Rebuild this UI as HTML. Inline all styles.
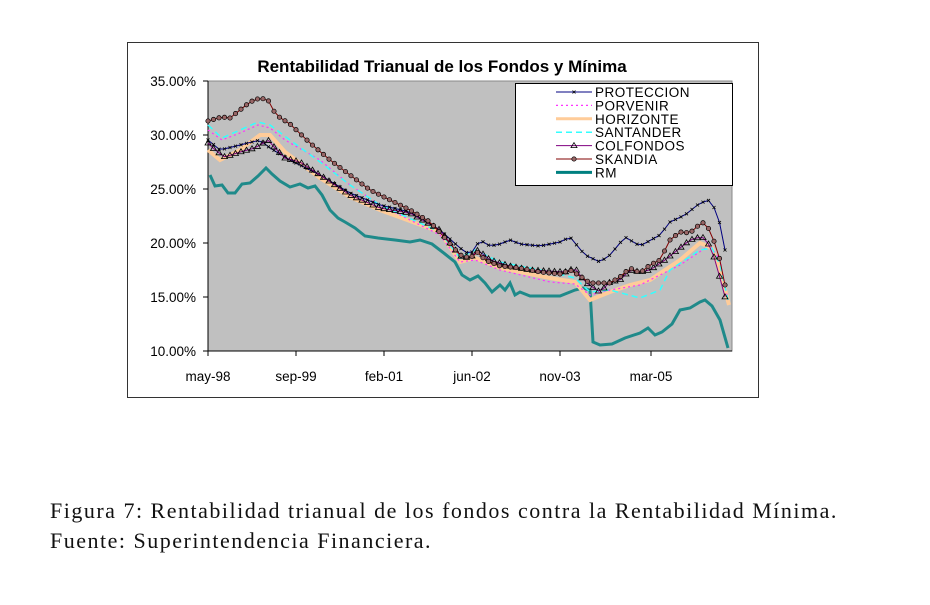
<!DOCTYPE html>
<html><head><meta charset="utf-8"><style>
body{margin:0;background:#fff;width:930px;height:605px;overflow:hidden}
.cap{position:absolute;left:50px;font-family:"Liberation Serif",serif;font-size:22px;letter-spacing:1.5px;color:#111;white-space:nowrap}
</style></head><body>
<svg id="s" width="930" height="605" style="position:absolute;left:0;top:0" font-family="Liberation Sans, sans-serif">
<rect x="127.5" y="42.5" width="631" height="355" fill="#fff" stroke="#333"/>
<text x="442" y="72" text-anchor="middle" font-size="17" font-weight="bold">Rentabilidad Trianual de los Fondos y Mínima</text>
<rect x="208" y="81" width="524" height="270" fill="#c0c0c0" stroke="#888"/>
<g id="ax" stroke="#000" fill="none"></g>
<g id="series"></g>
<g font-size="13.5" fill="#000" id="lab"></g>
</svg>
<div class="cap" style="top:498px">Figura 7: Rentabilidad trianual de los fondos contra la Rentabilidad Mínima.</div>
<div class="cap" style="top:528px">Fuente: Superintendencia Financiera.</div>
<script>
const NS="http://www.w3.org/2000/svg";
function el(t,a,p,txt){const e=document.createElementNS(NS,t);for(const k in a)e.setAttribute(k,a[k]);if(txt)e.textContent=txt;document.getElementById(p).appendChild(e);return e;}
el("line",{x1:208,y1:81,x2:208,y2:351},"ax");el("line",{x1:208,y1:351,x2:732,y2:351},"ax");
["35.00%","30.00%","25.00%","20.00%","15.00%","10.00%"].forEach((t,i)=>{const y=81+i*54;el("line",{x1:203,y1:y,x2:208,y2:y},"ax");el("text",{x:196,y:y+5,"text-anchor":"end"},"lab",t);});
[["may-98",208],["sep-99",296],["feb-01",384],["jun-02",472],["nov-03",560],["mar-05",651]].forEach(([t,x])=>{el("line",{x1:x,y1:351,x2:x,y2:356},"ax");el("text",{x:x,y:381,"text-anchor":"middle"},"lab",t);});
function interp(p){const out=[];for(let x=208;x<=729;x+=5.5){let i=0;while(i<p.length-2&&p[i+1][0]<x)i++;const a=p[i],b=p[i+1];let t=(x-a[0])/(b[0]-a[0]);t=Math.max(0,Math.min(1,t));out.push([x,a[1]+(b[1]-a[1])*t]);}return out;}
const S=[
{c:"#1f8a8a",w:3,m:null,p:[[210,175],[215,186],[222,185],[228,193],[235,193],[242,184],[250,183],[258,176],[266,168],[272,174],[280,181],[290,187],[300,184],[308,188],[315,186],[322,195],[330,210],[338,218],[345,222],[355,228],[365,236],[378,238],[395,240],[410,242],[420,240],[432,244],[445,254],[455,262],[462,275],[470,280],[478,276],[485,283],[492,292],[500,285],[505,290],[510,283],[515,295],[520,292],[530,296],[560,296],[575,290],[583,288],[590,290],[593,342],[600,345],[612,344],[625,338],[640,333],[648,328],[655,335],[662,332],[672,324],[680,310],[690,308],[700,302],[705,300],[712,306],[720,320],[728,348]]},
{c:"#ffcc99",w:4,m:null,p:[[208,150],[220,160],[240,150],[260,135],[270,135],[285,152],[320,178],[350,197],[380,210],[440,232],[460,262],[475,258],[500,268],[550,278],[575,282],[590,300],[610,292],[630,285],[650,280],[680,260],[700,243],[712,248],[720,270],[729,305]]},
{c:"#ff33ff",w:1.2,d:"2,3",m:null,p:[[208,130],[222,140],[240,133],[258,125],[270,128],[285,140],[320,160],[350,185],[380,205],[440,235],[460,262],[475,260],[500,270],[550,282],[575,284],[590,295],[610,290],[640,285],[680,265],[710,245],[720,260],[728,300]]},
{c:"#33ffff",w:1.5,d:"6,4",m:null,p:[[208,125],[222,138],[240,130],[258,122],[270,125],[290,140],[320,162],[350,185],[380,205],[440,232],[460,258],[475,250],[500,262],[550,272],[575,278],[590,292],[610,290],[640,298],[660,290],[670,270],[700,250],[712,248],[720,265],[728,300]]},
{c:"#000080",w:1,m:"x",p:[[208,140],[220,150],[240,145],[260,140],[270,148],[290,160],[320,175],[350,193],[380,205],[410,212],[440,230],[460,248],[470,255],[480,240],[490,246],[500,244],[510,240],[520,244],[540,246],[560,242],[570,237],[585,255],[600,262],[610,255],[625,237],[640,246],[660,235],[670,222],[685,215],[700,203],[710,200],[718,215],[725,250],[729,278]]},
{c:"#800080",w:1,m:"tri",p:[[208,143],[215,150],[225,157],[240,152],[255,148],[268,140],[275,148],[285,158],[300,162],[320,175],[350,195],[380,208],[410,213],[440,230],[460,256],[470,258],[478,250],[490,260],[510,266],[530,270],[565,272],[575,268],[585,282],[600,292],[610,282],[620,280],[630,270],[640,272],[650,270],[665,260],[680,248],[690,240],[700,237],[705,238],[712,250],[720,278],[729,312]]},
{c:"#800000",w:1,m:"o",p:[[208,121],[215,119],[222,117],[230,118],[240,110],[250,102],[260,98],[268,100],[276,115],[290,124],[310,143],[330,160],[350,175],[370,190],[390,200],[410,210],[430,222],[445,238],[460,255],[470,258],[478,252],[485,260],[500,266],[520,268],[540,272],[560,274],[570,270],[580,276],[590,283],[610,283],[620,277],[630,268],[640,273],[650,265],[660,260],[670,240],[680,232],[690,233],[700,224],[705,222],[712,235],[720,260],[728,300]]}
];
function mark(m,x,y,g){if(m==="o")el("circle",{cx:x,cy:y,r:2.2,fill:"#996666",stroke:"#000","stroke-width":0.7},g);
else if(m==="tri")el("polygon",{points:`${x},${y-3} ${x-3},${y+2} ${x+3},${y+2}`,fill:"none",stroke:"#000","stroke-width":0.8},g);
else if(m==="x")el("path",{d:`M${x-1.5} ${y-1.5}L${x+1.5} ${y+1.5}M${x-1.5} ${y+1.5}L${x+1.5} ${y-1.5}`,stroke:"#000","stroke-width":0.8},g);}
S.forEach(s=>{const pts=s.m?interp(s.p):s.p;const a={points:pts.map(q=>q.join(",")).join(" "),fill:"none",stroke:s.c,"stroke-width":s.w};if(s.d)a["stroke-dasharray"]=s.d;el("polyline",a,"series");if(s.m)pts.forEach(q=>mark(s.m,q[0],q[1],"series"));});
el("rect",{x:515.5,y:83.5,width:217,height:102,fill:"#fff",stroke:"#000"},"series");
const L=[["PROTECCION","#000080",1,null,"x"],["PORVENIR","#ff33ff",1.2,"2,3",null],["HORIZONTE","#ffcc99",3,null,null],["SANTANDER","#33ffff",1.5,"6,4",null],["COLFONDOS","#800080",1,null,"tri"],["SKANDIA","#800000",1,null,"o"],["RM","#008080",3,null,null]];
L.forEach((l,i)=>{const y=92+i*13.4;const a={x1:556,y1:y,x2:592,y2:y,stroke:l[1],"stroke-width":l[2]};if(l[3])a["stroke-dasharray"]=l[3];el("line",a,"series");if(l[4])mark(l[4],574,y,"series");el("text",{x:595,y:y+5,"font-size":13.5,"letter-spacing":"0.5"},"series",l[0]);});
</script>
</body></html>
